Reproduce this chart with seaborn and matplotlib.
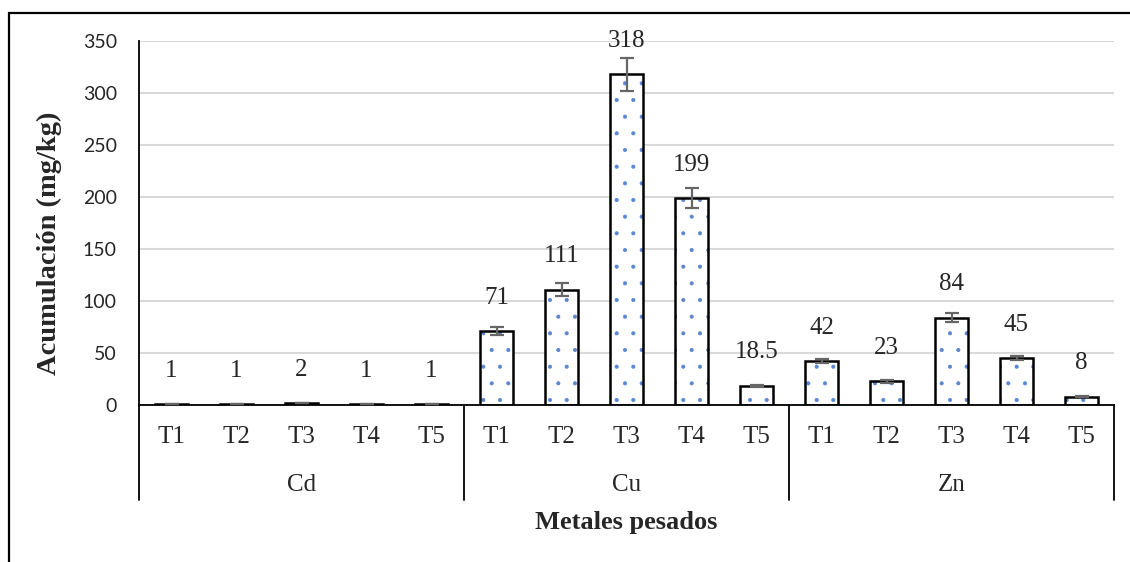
import numpy as np
import pandas as pd
import seaborn as sns
import matplotlib.pyplot as plt
import matplotlib.transforms as mtransforms
from matplotlib.patches import Rectangle

# datos
metales = ['Cd', 'Cu', 'Zn']
tratamientos = ['T1', 'T2', 'T3', 'T4', 'T5']
cd = [1, 1, 2, 1, 1]
cu = [71, 111, 318, 199, 18.5]
zn = [42, 23, 84, 45, 8]
cd_err = [0.3, 0.3, 0.4, 0.3, 0.3]
cu_err = [4, 6, 16, 10, 1]
zn_err = [2, 1.5, 4, 2, 0.5]
yticks = [0, 50, 100, 150, 200, 250, 300, 350]

rows = []
for m, vals, errs in zip(metales, [cd, cu, zn], [cd_err, cu_err, zn_err]):
    for t, v, e in zip(tratamientos, vals, errs):
        rows.append({'metal': m, 'trat': t, 'grupo': f'{m}-{t}', 'valor': v, 'err': e})
df = pd.DataFrame(rows)

sns.set_style('white')
plt.rcParams['hatch.linewidth'] = 0.5

serif = 'Liberation Serif'

fig = plt.figure(figsize=(11.3, 5.62), dpi=100)
ax = fig.add_axes([139/1130, 157/562, 975/1130, 364/562])

# relleno punteado azul
sns.barplot(data=df, x='grupo', y='valor', color='white', edgecolor='#5b86d0',
            linewidth=0, hatch='.', width=0.5, errorbar=None, ax=ax)
# borde negro
sns.barplot(data=df, x='grupo', y='valor', fill=False, color='black',
            linewidth=1.8, width=0.5, errorbar=None, ax=ax)

x = np.arange(len(df))
ax.errorbar(x, df['valor'], yerr=df['err'], fmt='none', ecolor='#666666',
            elinewidth=1.6, capsize=5, capthick=1.6, zorder=5)

for i, v in enumerate(df['valor']):
    ax.annotate(f'{v:g}', (i, v), xytext=(0, 24), textcoords='offset points',
                ha='center', va='center', fontsize=18, family=serif)

ax.set_xlim(-0.5, len(df) - 0.5)
ax.set_ylim(0, 350)
ax.set_yticks(yticks)
ax.set_yticklabels([str(t) for t in yticks], family='Lato', fontsize=14)
ax.set_xticks(x)
ax.set_xticklabels(tratamientos * len(metales), family=serif, fontsize=18)
ax.tick_params(axis='y', length=0, pad=16)
ax.tick_params(axis='x', length=0, pad=15)
ax.set_xlabel('')
ax.set_ylabel('')

ax.yaxis.grid(True, color='#d9d9d9', linewidth=1.5)
ax.set_axisbelow(True)
for s in ['top', 'right']:
    ax.spines[s].set_visible(False)
ax.spines['left'].set_color('black')
ax.spines['left'].set_linewidth(1.3)
ax.spines['bottom'].set_color('black')
ax.spines['bottom'].set_linewidth(1.3)

# etiquetas de grupo y separadores
trans = mtransforms.blended_transform_factory(ax.transData, ax.transAxes)
for k in range(len(metales) + 1):
    xs = k * len(tratamientos) - 0.5
    ax.plot([xs, xs], [0, -0.261], transform=trans, color='black', lw=1.3, clip_on=False)
for k, m in enumerate(metales):
    ax.text(k * len(tratamientos) + 2, -0.22, m, transform=trans, ha='center',
            va='center', fontsize=18, family=serif)

fig.text(626/1130, 1 - 522/562, 'Metales pesados', ha='center', va='center',
         fontsize=19, fontweight='bold', family=serif)
fig.text(49/1130, 1 - 243/562, 'Acumulación (mg/kg)', ha='center', va='center',
         rotation=90, fontsize=20.5, fontweight='bold', family=serif)

fig.add_artist(Rectangle((9/1130, -0.1), 1.2, 1 - 13/562 + 0.1, transform=fig.transFigure,
                         fill=False, edgecolor='black', lw=1.6))

fig.savefig('out.png', dpi=100)
